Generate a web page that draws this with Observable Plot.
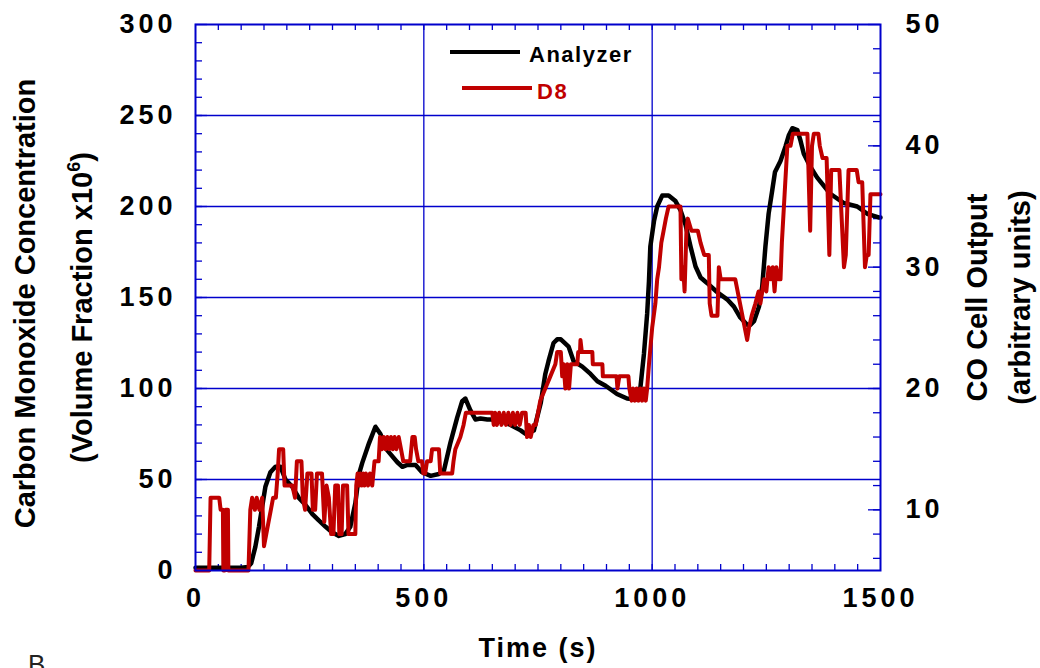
<!DOCTYPE html>
<html>
<head>
<meta charset="utf-8">
<script src="https://cdn.jsdelivr.net/npm/d3@7"></script>
<script src="https://cdn.jsdelivr.net/npm/@observablehq/plot@0.6"></script>
<style>
  html, body { margin: 0; padding: 0; background: white; }
  #wrap { position: relative; width: 1040px; height: 668px; overflow: hidden; font-family: 'Liberation Sans', Arial, sans-serif; }
  .leg { position: absolute; font-weight: bold; font-size: 22px; letter-spacing: 1.5px; line-height: 1; }
  .legline { position: absolute; height: 4px; }
  #panel { position: absolute; left: 28px; top: 651px; font-size: 26px; line-height: 1; color: #222; }
</style>
</head>
<body>
<div id="wrap">
  <div id="chart"></div>
  <div class="legline" style="left:450px;top:50px;width:70px;background:#000"></div>
  <div class="leg" style="left:529px;top:44px;color:#000">Analyzer</div>
  <div class="legline" style="left:462px;top:86px;width:70px;background:#c00000"></div>
  <div class="leg" style="left:537px;top:81px;color:#c00000">D8</div>
  <div id="panel">B</div>
</div>
<script>
// ---- Data ----
const timeAnalyzer = [0,50,100,115,122,131,139,146,153,164,175,186,197,212,226,241,256,270,285,299,314,328,339,350,358,365,380,394,405,420,442,453,464,482,496,515,533,544,558,573,584,591,602,613,624,639,660,690,712,723,741,756,766,773,784,792,800,817,828,847,865,880,898,923,945,965,974,982,989,993,996,1004,1011,1022,1036,1051,1062,1073,1084,1095,1106,1120,1142,1164,1179,1193,1208,1215,1223,1234,1241,1248,1255,1263,1269,1281,1292,1299,1307,1318,1325,1332,1346,1361,1390,1419,1449,1471,1496,1500];
const coAnalyzer = [1.5,1.5,1.5,2,4,13,24,35,46,54,57,57,50,46,40,36,31,27.5,24,21,19,20,24,37,53,59,70,79,75,66,59.5,57,58,58,54,52,53,55,70,84,93,94.5,88,83,83.5,83,83,80,77,75,77,92,108,115,125,127,127,123,115,112,108,104,101.5,97,94.5,94,100,119,141,159,178,192,200,206,206,203,198,190,178,167,161,158,153,149,145,139,135,135,137,145,156,178,196,209,219,225,233,239,243,242,236,229,222,216,207,202,200,196,194,194];

const timeD8 = [0,30,33,40,52,55,60,61,64,66,71,72,116,120,124,130,134,140,146,150,155,160,165,170,176,180,183,192,195,212,218,222,232,235,240,245,254,257,262,266,277,282,287,292,297,302,306,312,315,320,323,332,335,350,352,355,358,361,364,367,370,373,378,382,387,392,401,404,408,412,416,420,424,428,432,436,440,445,450,455,470,475,480,483,488,496,499,503,507,515,518,533,536,562,565,569,580,587,592,650,653,656,660,665,670,675,680,685,690,695,700,705,710,715,723,726,730,734,740,745,750,755,766,777,788,792,800,803,806,810,814,818,822,836,838,842,843,846,869,870,891,892,922,924,928,948,950,955,958,962,966,970,974,978,982,986,989,993,1000,1007,1011,1015,1020,1025,1030,1036,1062,1064,1068,1071,1075,1078,1086,1100,1106,1114,1124,1126,1130,1143,1146,1150,1182,1208,1212,1218,1226,1233,1237,1241,1245,1250,1255,1260,1264,1268,1272,1277,1281,1284,1290,1296,1303,1308,1340,1346,1350,1354,1364,1367,1373,1382,1388,1392,1410,1420,1424,1430,1448,1452,1460,1466,1470,1474,1478,1500];
const outD8 = [5,5,11,11,11,10,10,5,5,10,10,5,5,10,11,10,11,10,11,7,8,9,10,11,11,13,15,15,12,12,11,14,14,11,10,13,13,10,10,13,13,9,12,11,8,8,12,12,8,8,12,12,8,8,12,13,12,13,12,13,12,13,12,13,12,14,14,16,15,16,15,16,15,16,15,16,15,16,15,14,14,16,16,15,14,14,13,13,14,14,15,15,13,13,14,15,16,17,18,18,17,18,17,18,17,18,17,18,17,18,17,18,17,18,18,16,17,16,17,17,18,19,20,21,22,23,23,21,22,20,22,20,22,22,23,23,24,23,23,22,22,21,21,20,21,21,20,19,20,19,20,19,20,19,20,19,20,22,25,27,29,30,32,33,34,35,35,29,30,28,33,34,33,33,32,31,31,27,26,26,30,29,29,24,25,26,27,28,27,28,29,28,30,29,30,28,30,29,29,32,36,40,40,41,41,33,40,41,41,40,39,39,31,38,38,30,31,38,38,37,37,30,31,31,36,36];

const xDomain = [0, 1500];
const yDomain = [0, 300];          // left axis: CO volume fraction x10^6
const rightDomain = [5, 50];       // right axis: CO cell output
const xTicks = [0, 500, 1000, 1500];
const yTicks = [0, 50, 100, 150, 200, 250, 300];
const rightTicks = [10, 20, 30, 40, 50];
const xGrid = [500, 1000];
const yGrid = [50, 100, 150, 200, 250];
const xMinor = d3.range(50, 1500, 50);
const yMinor = d3.range(10, 300, 10);
const rightMinor = d3.range(6, 50, 2);

const leftTitle1 = "Carbon Monoxide Concentration";
const leftTitle2 = "(Volume Fraction x10";
const leftTitle2Sup = "6";
const rightTitle1 = "CO Cell Output";
const rightTitle2 = "(arbitrary units)";
const xTitle = "Time (s)";

// ---- Layout / style ----
const W = 1040, H = 668;
const mL = 195, mR = 160, mT = 24, mB = 98;
const innerW = W - mL - mR, innerH = H - mT - mB;
const BLUE = "#0000cc";
const RED = "#c00000";

const toL = r => (r - rightDomain[0]) / (rightDomain[1] - rightDomain[0]) * (yDomain[1] - yDomain[0]) + yDomain[0];
const toR = l => Math.round((l - yDomain[0]) / (yDomain[1] - yDomain[0]) * (rightDomain[1] - rightDomain[0]) + rightDomain[0]);

const idxA = d3.range(timeAnalyzer.length);
const idxD = d3.range(timeD8.length);

const chart = Plot.plot({
  width: W, height: H,
  marginLeft: mL, marginRight: mR, marginTop: mT, marginBottom: mB,
  x: {domain: xDomain},
  y: {domain: yDomain},
  style: {fontFamily: "'Liberation Sans', Arial, sans-serif", fontWeight: "bold", fontSize: "27px", color: "black", background: "white", letterSpacing: "4px"},
  marks: [
    Plot.gridY(yGrid, {stroke: BLUE, strokeOpacity: 1, strokeWidth: 1.3}),
    Plot.gridX(xGrid, {stroke: BLUE, strokeOpacity: 1, strokeWidth: 1.3}),
    // inward ticks
    Plot.tickY(yMinor, {y: d => d, stroke: BLUE, strokeWidth: 1.3, insetRight: innerW - 7}),
    Plot.tickY(yTicks, {y: d => d, stroke: BLUE, strokeWidth: 1.3, insetRight: innerW - 12}),
    Plot.tickY(rightMinor.map(toL), {y: d => d, stroke: BLUE, strokeWidth: 1.3, insetLeft: innerW - 7}),
    Plot.tickY(rightTicks.map(toL), {y: d => d, stroke: BLUE, strokeWidth: 1.3, insetLeft: innerW - 12}),
    Plot.tickX(xMinor, {x: d => d, stroke: BLUE, strokeWidth: 1.3, insetTop: innerH - 6}),
    Plot.tickX(xMinor, {x: d => d, stroke: BLUE, strokeWidth: 1.3, insetBottom: innerH - 6}),
    Plot.axisY(yTicks, {anchor: "left", tickSize: 0, tickPadding: 19, tickFormat: d => String(d), label: null}),
    Plot.axisY(rightTicks.map(toL), {anchor: "right", tickSize: 0, tickPadding: 25, tickFormat: l => String(toR(l)), label: null}),
    Plot.axisX(xTicks, {anchor: "bottom", tickSize: 0, tickPadding: 17, tickFormat: d => String(d), label: null}),
    Plot.line(idxA, {x: i => timeAnalyzer[i], y: i => coAnalyzer[i], stroke: "black", strokeWidth: 4.5}),
    Plot.line(idxD, {x: i => timeD8[i], y: i => toL(outD8[i]), stroke: RED, strokeWidth: 4}),
    Plot.frame({stroke: BLUE, strokeWidth: 2}),
    Plot.text([leftTitle1], {text: d => d, frameAnchor: "left", textAnchor: "middle", lineAnchor: "middle", rotate: -90, dx: -170, dy: 6, fontSize: 29}),
    Plot.text([leftTitle2], {text: d => d, frameAnchor: "left", textAnchor: "middle", lineAnchor: "middle", rotate: -90, dx: -113, dy: 10, fontSize: 29}),
    Plot.text([rightTitle1], {text: d => d, frameAnchor: "right", textAnchor: "middle", lineAnchor: "middle", rotate: -90, dx: 97, fontSize: 29}),
    Plot.text([rightTitle2], {text: d => d, frameAnchor: "right", textAnchor: "middle", lineAnchor: "middle", rotate: -90, dx: 140, fontSize: 29}),
    Plot.text([xTitle], {text: d => d, frameAnchor: "bottom", textAnchor: "middle", lineAnchor: "middle", dy: 78, fontSize: 27})
  ]
});
document.getElementById("chart").appendChild(chart);

// post-process titles: letter spacing and superscript
const svg = d3.select(chart);
svg.selectAll("text").each(function() {
  const t = this.textContent;
  if (t === leftTitle1 || t === rightTitle1 || t === rightTitle2) {
    d3.select(this).style("letter-spacing", "0px");
  } else if (t === xTitle) {
    d3.select(this).style("letter-spacing", "2px");
  } else if (t === leftTitle2) {
    const s = d3.select(this).style("letter-spacing", "0px");
    s.text(null);
    s.append("tspan").text(leftTitle2);
    s.append("tspan").attr("dy", "-12").attr("font-size", 18).text(leftTitle2Sup);
    s.append("tspan").attr("dy", "12").text(")");
  }
});
</script>
</body>
</html>
